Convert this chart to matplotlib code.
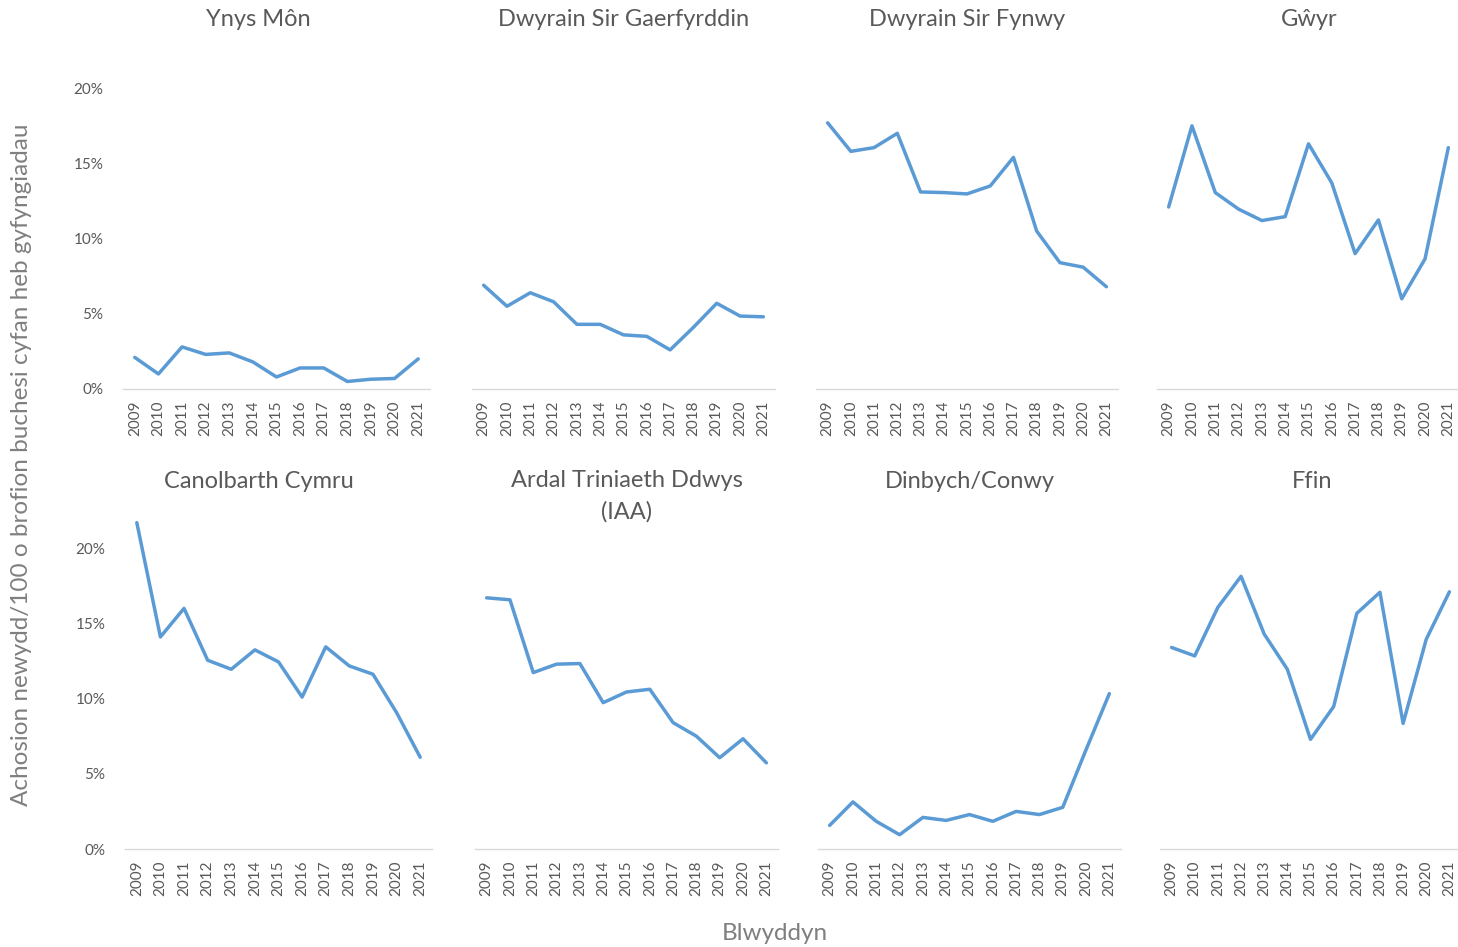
import matplotlib
matplotlib.use("Agg")
import matplotlib.pyplot as plt
from matplotlib.ticker import PercentFormatter

plt.rcParams['font.family'] = ['Lato', 'DejaVu Sans']

years = [str(y) for y in range(2009, 2022)]

titles = [
    "Ynys Môn", "Dwyrain Sir Gaerfyrddin", "Dwyrain Sir Fynwy", "Gŵyr",
    "Canolbarth Cymru", "Ardal Triniaeth Ddwys\n(IAA)", "Dinbych/Conwy", "Ffin",
]

# percentages
ynys_mon = [2.1, 1.0, 2.8, 2.3, 2.4, 1.8, 0.8, 1.4, 1.4, 0.5, 0.65, 0.7, 2.0]
sir_gaerfyrddin = [6.9, 5.5, 6.4, 5.8, 4.3, 4.3, 3.6, 3.5, 2.6, 4.1, 5.7, 4.85, 4.8]
sir_fynwy = [17.7, 15.8, 16.05, 17.0, 13.1, 13.06, 12.97, 13.5, 15.4, 10.5, 8.4, 8.1, 6.8]
gwyr = [12.1, 17.5, 13.06, 11.96, 11.2, 11.46, 16.3, 13.7, 9.0, 11.24, 6.0, 8.65, 16.05]
canolbarth = [21.7, 14.1, 16.0, 12.55, 11.95, 13.24, 12.44, 10.1, 13.44, 12.17, 11.62, 9.07, 6.1]
ardal_iaa = [16.7, 16.57, 11.73, 12.29, 12.33, 9.73, 10.44, 10.62, 8.4, 7.5, 6.07, 7.33, 5.73]
dinbych_conwy = [1.57, 3.13, 1.84, 0.95, 2.1, 1.9, 2.29, 1.84, 2.5, 2.29, 2.77, 6.6, 10.33]
ffin = [13.4, 12.84, 16.07, 18.13, 14.29, 11.95, 7.29, 9.47, 15.67, 17.07, 8.35, 13.95, 17.1]

series = [ynys_mon, sir_gaerfyrddin, sir_fynwy, gwyr,
          canolbarth, ardal_iaa, dinbych_conwy, ffin]

W, H = 1458, 947
fig = plt.figure(figsize=(W / 100, H / 100), dpi=100)

# panel boxes in pixels: (left, right, baseline y from top, title centre x)
boxes = [
    (123, 430, 389, 258), (472, 775, 389, 624), (816, 1118, 389, 967), (1157, 1460, 389, 1309),
    (125, 432, 849, 259), (475, 778, 849, 627), (818, 1121, 849, 970), (1160, 1461, 849, 1312),
]
ymax = 22.0
px_per_pct = 15.04

line_color = "#5B9BD5"
text_color = "#595959"
axis_color = "#D9D9D9"

for i, (vals, title, (x0, x1, yb, tx)) in enumerate(zip(series, titles, boxes)):
    h = ymax * px_per_pct
    ax = fig.add_axes([x0 / W, 1 - yb / H, (x1 - x0) / W, h / H])
    ax.plot(range(len(years)), vals, color=line_color, lw=2.5,
            solid_joinstyle="round", solid_capstyle="round", clip_on=False)
    ax.set_xlim(-0.5, len(years) - 0.5)
    ax.set_ylim(0, ymax)
    ax.set_xticks(range(len(years)))
    ax.set_xticklabels(years, rotation=90)
    ax.set_yticks([0, 5, 10, 15, 20])
    ax.yaxis.set_major_formatter(PercentFormatter(decimals=0))
    ax.tick_params(axis="both", length=0, colors=text_color, labelsize=11)
    ax.tick_params(axis="x", pad=8)
    ax.tick_params(axis="y", pad=14)
    if i % 4 != 0:
        ax.set_yticklabels([])
    for side in ["top", "right", "left"]:
        ax.spines[side].set_visible(False)
    ax.spines["bottom"].set_color(axis_color)
    ax.spines["bottom"].set_linewidth(1.0)
    ax.patch.set_alpha(0)

    # panel title
    ty = 20 if yb < 500 else 481
    if "\n" in title:
        fig.text(tx / W, 1 - (ty - 11) / H, title, ha="center", va="top",
                 fontsize=17, color=text_color, linespacing=1.6)
    else:
        fig.text(tx / W, 1 - ty / H, title, ha="center", va="center",
                 fontsize=17, color=text_color)

fig.text(22 / W, 1 - 465 / H, "Achosion newydd/100 o brofion buchesi cyfan heb gyfyngiadau",
         rotation=90, ha="center", va="center", fontsize=17.5, color="#7F7F7F")
fig.text(775 / W, 1 - 933 / H, "Blwyddyn", ha="center", va="center",
         fontsize=17.5, color="#7F7F7F")

fig.savefig("out.png", dpi=100)
